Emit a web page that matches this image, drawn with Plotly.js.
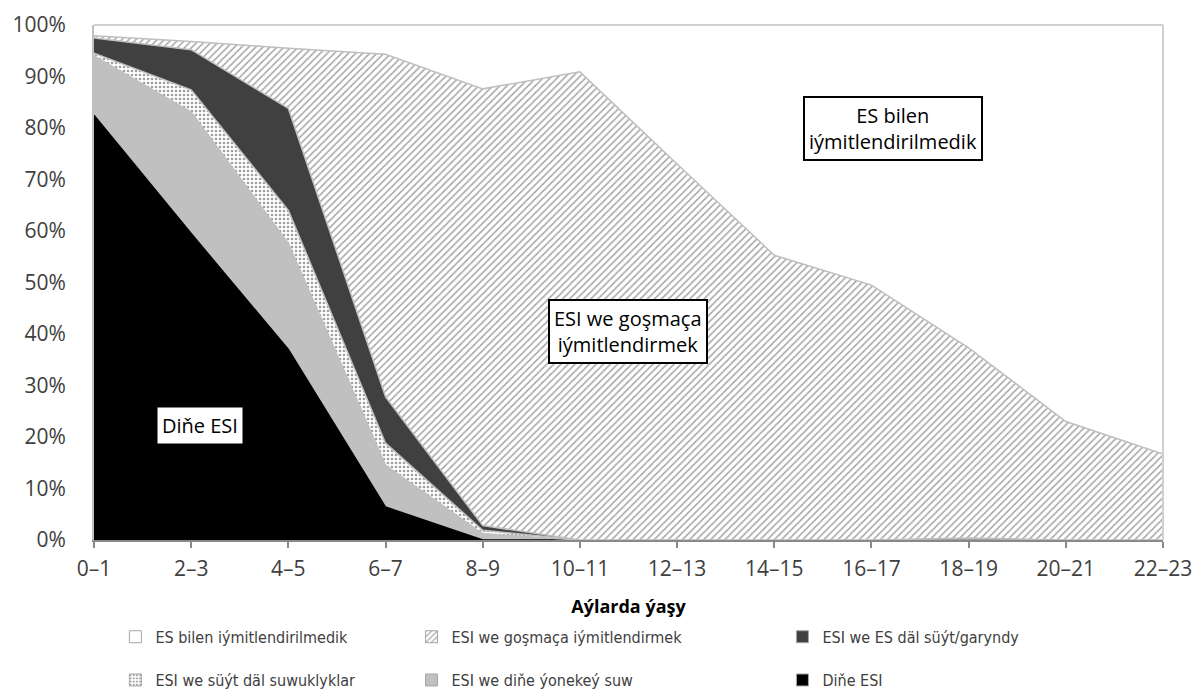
<!DOCTYPE html>
<html>
<head>
<meta charset="utf-8">
<script src="https://cdn.plot.ly/plotly-3.0.1.min.js"></script>
<style>
html,body{margin:0;padding:0;background:#fff;}
#chart{width:1198px;height:697px;}
.infolayer g[class^="legend"] .traces{opacity:1 !important;}
</style>
</head>
<body>
<div id="chart"></div>
<script>
// Categories: age in months
const ageGroups = ["0–1","2–3","4–5","6–7","8–9","10–11","12–13","14–15","16–17","18–19","20–21","22–23"];

// Series values (%), stacked bottom to top
const exclusiveBF      = [82.5, 59.5, 37.0, 6.4, 0.0, 0, 0, 0, 0, 0, 0, 0];        // Diňe ESI
const bfPlainWater     = [11.5, 23.6, 20.6, 8.1, 1.2, 0, 0, 0, 0, 0, 0, 0];        // ESI we diňe ýonekeý suw
const bfNonMilkLiquids = [0.5, 4.3, 6.4, 4.3, 0.7, 0, 0, 0, 0, 0, 0, 0];           // ESI we süýt däl suwuklyklar
const bfOtherMilk      = [3.0, 7.8, 19.8, 9.0, 0.9, 0, 0, 0, 0, 0.4, 0, 0];         // ESI we ES däl süýt/garyndy
const bfComplementary  = [0.4, 1.6, 11.7, 66.5, 84.8, 90.9, 73.0, 55.3, 49.5, 36.9, 23.0, 16.7]; // ESI we goşmaça iýmitlendirmek
const notBreastfed     = [2.1, 3.2, 4.5, 5.7, 12.4, 9.1, 27.0, 44.7, 50.5, 62.7, 77.0, 83.3];  // ES bilen iýmitlendirilmedik

const seriesNames = [
  "Diňe ESI",
  "ESI we diňe ýonekeý suw",
  "ESI we süýt däl suwuklyklar",
  "ESI we ES däl süýt/garyndy",
  "ESI we goşmaça iýmitlendirmek",
  "ES bilen iýmitlendirilmedik"
];

const FONT = "'Open Sans', sans-serif";
const LEGFONT = "'Liberation Sans Narrow', 'DejaVu Sans Condensed', sans-serif";
const edge = "#bfbfbf";

const hatch = {shape: "/", fgcolor: "#a6a6a6", bgcolor: "#ffffff", size: 5, solidity: 0.3};
const dots = {shape: ".", fgcolor: "#a0a0a0", bgcolor: "#ffffff", size: 4, solidity: 0.35};

function area(name, y, fillcolor, pattern, lineColor) {
  const t = {
    type: "scatter", mode: "lines", x: ageGroups, y: y, name: name,
    stackgroup: "one", fill: "tonexty", fillcolor: fillcolor,
    line: {color: lineColor || edge, width: 1.5},
    showlegend: false, hoverinfo: "x+y+name"
  };
  if (pattern) t.fillpattern = pattern;
  return t;
}
// legend-only entries (square swatches like the reference)
function key(name, y, color, pattern, legendId) {
  const m = {color: color, line: {color: "#a6a6a6", width: 1}};
  if (pattern) m.pattern = pattern;
  return {type: "bar", x: ageGroups, y: y, name: name, marker: m, legend: legendId,
    showlegend: true, visible: "legendonly", hoverinfo: "skip"};
}

const traces = [
  area(seriesNames[0], exclusiveBF, "#000000", null, "#000000"),
  area(seriesNames[1], bfPlainWater, "#c0c0c0"),
  area(seriesNames[2], bfNonMilkLiquids, "#ffffff", dots),
  area(seriesNames[3], bfOtherMilk, "#404040"),
  area(seriesNames[4], bfComplementary, "#ffffff", hatch),
  area(seriesNames[5], notBreastfed, "#ffffff", null, "rgba(0,0,0,0)"),
  key(seriesNames[5], notBreastfed, "#ffffff", null, "legend"),
  key(seriesNames[4], bfComplementary, "#ffffff", hatch, "legend2"),
  key(seriesNames[3], bfOtherMilk, "#404040", null, "legend3"),
  key(seriesNames[2], bfNonMilkLiquids, "#ffffff", dots, "legend4"),
  key(seriesNames[1], bfPlainWater, "#c0c0c0", null, "legend5"),
  key(seriesNames[0], exclusiveBF, "#000000", null, "legend6")
];

function leg(x, y) {
  return {x: x, y: y, xanchor: "left", yanchor: "middle", orientation: "h",
    font: {family: LEGFONT, size: 16, color: "#404040"}, bgcolor: "rgba(0,0,0,0)",
    itemwidth: 30, itemclick: false, itemdoubleclick: false};
}
const r1 = -0.188, r2 = -0.272;
const c1 = 0.02, c2 = 0.297, c3 = 0.644;

const layout = {
  width: 1198, height: 697,
  margin: {l: 94, r: 35, t: 25, b: 157, autoexpand: false},
  paper_bgcolor: "#ffffff", plot_bgcolor: "#ffffff",
  font: {family: FONT, size: 20, color: "#404040"},
  xaxis: {
    type: "category", range: [0, 11], showgrid: false, zeroline: false,
    showline: true, linecolor: "#898989", linewidth: 2,
    ticks: "outside", ticklen: 6, tickcolor: "#898989", tickwidth: 2,
    ticklabelstandoff: 3,
    tickfont: {family: FONT, size: 21, color: "#404040"},
    title: {text: "<b>Aýlarda ýaşy</b>", font: {family: FONT, size: 18, color: "#000000"}, standoff: 19}
  },
  yaxis: {
    range: [0, 100], dtick: 10, ticksuffix: "%", showgrid: false, zeroline: false,
    showline: true, linecolor: "#bfbfbf", linewidth: 2, ticks: "",
    ticklabelstandoff: 22,
    tickfont: {family: FONT, size: 21, color: "#404040"}
  },
  showlegend: true,
  legend: leg(c1, r1), legend2: leg(c2, r1), legend3: leg(c3, r1),
  legend4: leg(c1, r2), legend5: leg(c2, r2), legend6: leg(c3, r2),
  shapes: [
    {type: "line", xref: "paper", yref: "paper", x0: 0, x1: 1, y0: 1, y1: 1, line: {color: "#d0d0d0", width: 2}},
    {type: "line", xref: "paper", yref: "paper", x0: 1, x1: 1, y0: 0, y1: 1, line: {color: "#d0d0d0", width: 2}}
  ],
  annotations: [
    {x: 1.09, y: 22.3, xref: "x", yref: "y", text: "Diňe ESI", showarrow: false,
      font: {family: FONT, size: 20, color: "#000"}, bgcolor: "#ffffff", borderpad: 4},
    {x: 5.49, y: 40.4, xref: "x", yref: "y", text: "ESI we goşmaça<br>iýmitlendirmek", showarrow: false,
      font: {family: FONT, size: 20, color: "#000"}, bgcolor: "#ffffff", bordercolor: "#000", borderwidth: 2, borderpad: 4},
    {x: 8.22, y: 80, xref: "x", yref: "y", text: "ES bilen<br>iýmitlendirilmedik", showarrow: false,
      font: {family: FONT, size: 20, color: "#000"}, bgcolor: "#ffffff", bordercolor: "#000", borderwidth: 2, borderpad: 4}
  ]
};

Plotly.newPlot("chart", traces, layout, {displayModeBar: false, staticPlot: true});
</script>
</body>
</html>
